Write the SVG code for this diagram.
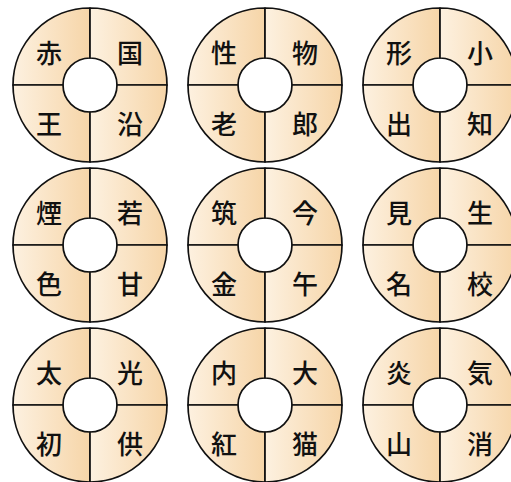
<svg xmlns="http://www.w3.org/2000/svg" xmlns:xlink="http://www.w3.org/1999/xlink" width="511" height="482" viewBox="0 0 511 482">
<defs>
<linearGradient id="g" x1="0" y1="0" x2="1" y2="0">
<stop offset="0" stop-color="#fdf1e0"/>
<stop offset="1" stop-color="#f6d5a8"/>
</linearGradient>
<g id="ring">
<path class="q" d="M-77,0 A77,77 0 0 1 0,-77 L0,-27 A27,27 0 0 0 -27,0 Z"/>
<path class="q" d="M0,-77 A77,77 0 0 1 77,0 L27,0 A27,27 0 0 0 0,-27 Z"/>
<path class="q" d="M-77,0 L-27,0 A27,27 0 0 0 0,27 L0,77 A77,77 0 0 1 -77,0 Z"/>
<path class="q" d="M27,0 L77,0 A77,77 0 0 1 0,77 L0,27 A27,27 0 0 0 27,0 Z"/>
</g>
</defs>
<style>
.q{fill:url(#g);stroke:#111;stroke-width:1.7;stroke-linejoin:round}
text{font-family:"Noto Sans CJK JP","Noto Sans CJK SC",sans-serif;font-size:26px;font-weight:500;fill:#111;text-anchor:middle;dominant-baseline:central}
</style>
<g id="connectors"></g>
<g id="n1" transform="translate(90,85)"><use xlink:href="#ring"/><text x="-41" y="-34">赤</text><text x="40" y="-34">国</text><text x="-41" y="37">王</text><text x="40" y="37">沿</text></g>
<g id="n2" transform="translate(265,85)"><use xlink:href="#ring"/><text x="-41" y="-34">性</text><text x="40" y="-34">物</text><text x="-41" y="37">老</text><text x="40" y="37">郎</text></g>
<g id="n3" transform="translate(440,85)"><use xlink:href="#ring"/><text x="-41" y="-34">形</text><text x="40" y="-34">小</text><text x="-41" y="37">出</text><text x="40" y="37">知</text></g>
<g id="n4" transform="translate(90,245)"><use xlink:href="#ring"/><text x="-41" y="-34">煙</text><text x="40" y="-34">若</text><text x="-41" y="37">色</text><text x="40" y="37">甘</text></g>
<g id="n5" transform="translate(265,245)"><use xlink:href="#ring"/><text x="-41" y="-34">筑</text><text x="40" y="-34">今</text><text x="-41" y="37">金</text><text x="40" y="37">午</text></g>
<g id="n6" transform="translate(440,245)"><use xlink:href="#ring"/><text x="-41" y="-34">見</text><text x="40" y="-34">生</text><text x="-41" y="37">名</text><text x="40" y="37">校</text></g>
<g id="n7" transform="translate(90,405)"><use xlink:href="#ring"/><text x="-41" y="-34">太</text><text x="40" y="-34">光</text><text x="-41" y="37">初</text><text x="40" y="37">供</text></g>
<g id="n8" transform="translate(265,405)"><use xlink:href="#ring"/><text x="-41" y="-34">内</text><text x="40" y="-34">大</text><text x="-41" y="37">紅</text><text x="40" y="37">猫</text></g>
<g id="n9" transform="translate(440,405)"><use xlink:href="#ring"/><text x="-41" y="-34">炎</text><text x="40" y="-34">気</text><text x="-41" y="37">山</text><text x="40" y="37">消</text></g>
</svg>
